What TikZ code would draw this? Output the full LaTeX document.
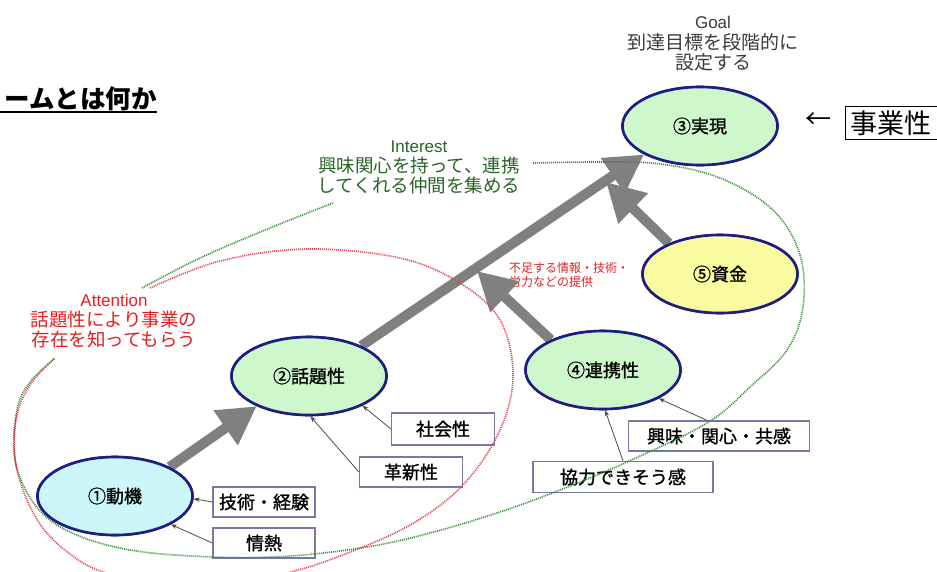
\documentclass[tikz,border=0pt]{standalone}
\usepackage{fontspec}
\setmainfont{Noto Sans CJK JP}
\newfontfamily\lat{Liberation Sans}
\newfontfamily\medfont[FakeBold=1.2]{Noto Sans CJK JP}
\usetikzlibrary{shapes.geometric,arrows.meta}
\definecolor{lgreen}{RGB}{206,247,204}
\definecolor{lcyan}{RGB}{204,246,250}
\definecolor{lyellow}{RGB}{250,250,160}
\definecolor{navy}{RGB}{30,30,130}
\definecolor{garrow}{RGB}{128,128,128}
\definecolor{boxc}{RGB}{120,120,165}
\definecolor{tred}{RGB}{228,30,30}
\definecolor{tgreen}{RGB}{40,100,40}
\definecolor{tgoal}{RGB}{60,60,60}
\definecolor{dred}{RGB}{225,60,80}
\definecolor{dgreen}{RGB}{50,140,50}
\begin{document}
\begin{tikzpicture}[x=1pt,y=-1pt,
  bubble/.style={ellipse, draw=navy, line width=2.6pt, minimum width=155pt, minimum height=78pt, inner sep=0pt, font=\medfont\fontsize{18}{20}\selectfont},
  tag/.style={draw=boxc, line width=1.2pt, inner sep=0pt, font=\medfont\fontsize{18}{20}\selectfont},
  bigarrow/.style={draw=garrow, line width=10pt, -{Triangle[length=38pt,width=40pt]}},
  thinarrow/.style={draw=black!70, line width=0.8pt, -{Stealth[length=6pt,width=4.5pt]}},
  dotline/.style={line width=1.6pt, dash pattern=on 1pt off 1pt},
  note/.style={align=center, inner sep=0pt}
]
\useasboundingbox (0,0) rectangle (937,571);
\clip (0,0) rectangle (937,571);

% title
\node[anchor=east, inner sep=0pt, font=\fontsize{25.5}{26}\bfseries] (title) at (157,99) {ームとは何か};
\draw[line width=2.4pt] (0,112) -- (157,112);

% header texts
\node[note, text=tgoal, font=\fontsize{19}{20.5}\selectfont] (goal) at (713,44) {{\lat\fontsize{17}{20.5}\selectfont Goal}\\到達目標を段階的に\\設定する};
\node[note, text=tgreen, font=\fontsize{18.5}{20}\selectfont] (interest) at (419,167) {{\lat\fontsize{17}{20}\selectfont Interest}\\興味関心を持って、連携\\してくれる仲間を集める};
\node[note, text=tred, font=\fontsize{18.5}{20}\selectfont] (attention) at (114,321) {{\lat\fontsize{17}{20}\selectfont Attention}\\話題性により事業の\\存在を知ってもらう};
\node[align=left, anchor=west, inner sep=0pt, text=tred, font=\fontsize{12}{14}\selectfont] (teikyo) at (509,275) {不足する情報・技術・\\労力などの提供};

% business box
\node[font=\fontsize{26}{28}\selectfont, inner sep=0pt] (larrow) at (818,121) {←};
\node[draw=black, line width=1pt, minimum width=92pt, minimum height=33pt, inner sep=0pt, font=\fontsize{27}{28}\selectfont] (jigyo) at (891,123) {事業性};

% ellipses (placed first for names)
\node[bubble, fill=lgreen] (jitsugen) at (700,126) {③実現};
\node[bubble, fill=lgreen] (wadai) at (309,376) {②話題性};
\node[bubble, fill=lcyan] (doki) at (115,496) {①動機};
\node[bubble, fill=lgreen] (renkei) at (603,370) {④連携性};
\node[bubble, fill=lyellow] (shikin) at (720,274) {⑤資金};

% tag boxes
\node[tag, minimum width=102pt, minimum height=30pt] (gijutsu) at (264,502) {技術・経験};
\node[tag, minimum width=102pt, minimum height=30pt] (jonetsu) at (264,543) {情熱};
\node[tag, minimum width=103pt, minimum height=32pt] (shakai) at (443,429) {社会性};
\node[tag, minimum width=103pt, minimum height=30pt] (kakushin) at (411,472) {革新性};
\node[tag, minimum width=181pt, minimum height=30pt] (kyomi) at (719,436) {興味・関心・共感};
\node[tag, minimum width=180pt, minimum height=31pt] (kyoryoku) at (623,477) {協力できそう感};

% junction points on the long arrow
\coordinate (j4) at (477,271);
\coordinate (j5) at (606,182);

% big arrows
\draw[bigarrow] (doki.28) -- (wadai.210);
\draw[bigarrow] (wadai.30) -- (jitsugen.207);
\draw[bigarrow] (renkei.150) -- (j4);
\draw[bigarrow] (shikin.149) -- (j5);

% thin arrows
\draw[thinarrow] (gijutsu.west) -- (doki.-2);
\draw[thinarrow] (jonetsu.west) -- (doki.-27);
\draw[thinarrow] (shakai.west) -- (wadai.-29);
\draw[thinarrow] (kakushin.west) -- (wadai.-88);
\draw[thinarrow] ([xshift=-12pt]kyomi.north) -- (renkei.-27);
\draw[thinarrow] (kyoryoku.north) -- (renkei.-87);

% dotted curves
\draw[dotline, dred] plot[smooth, tension=0.6] coordinates {(150,288) (220,261) (307,249) (400,258) (460,283) (500,320) (513,375) (500,430) (463,485) (410,525) (340,556) (283,574) (200,592) (110,574) (70,554) (38,521) (17,470) (16,420) (30,385) (55,358)};
\draw[dotline, dgreen] plot[smooth, tension=0.6] coordinates {(142,288) (200,258) (270,228) (333,203)};
\draw[dotline, dgreen] plot[smooth, tension=0.6] coordinates {(533,163) (600,162) (660,164) (720,178) (773,210) (800,255) (803,307) (787,350) (750,387) (707,423) (627,462) (560,490) (500,512) (430,533) (367,547) (290,556) (213,557) (130,550) (70,532) (35,505) (15,460) (17,410) (30,382) (55,358)};

% redraw ellipses on top
\node[bubble, fill=lgreen] at (jitsugen) {③実現};
\node[bubble, fill=lgreen] at (wadai) {②話題性};
\node[bubble, fill=lcyan] at (doki) {①動機};
\node[bubble, fill=lgreen] at (renkei) {④連携性};
\node[bubble, fill=lyellow] at (shikin) {⑤資金};
\end{tikzpicture}
\end{document}
